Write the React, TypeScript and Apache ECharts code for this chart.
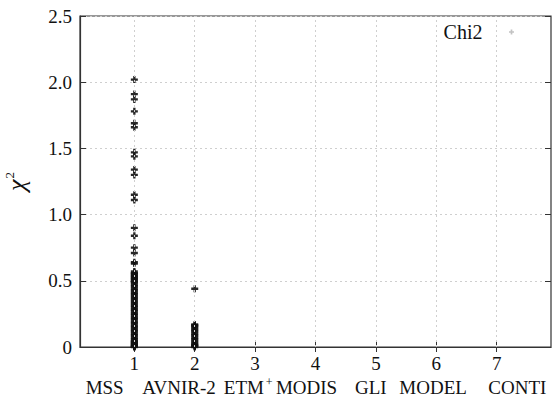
import React, { useEffect, useRef } from "react";
import * as echarts from "echarts";

const tickValues = [1, 2, 3, 4, 5, 6, 7];
const sensorNames = ["MSS", "AVNIR-2", "ETM+", "MODIS", "GLI", "MODEL", "CONTI"];

const chiMSS = [
  2.02, 1.91, 1.87, 1.78, 1.69, 1.66, 1.47, 1.44, 1.34, 1.3, 1.15, 1.11, 0.9, 0.84,
  0.75, 0.71, 0.64, 0.63, 0.57, 0.56, 0.555, 0.55, 0.54, 0.535, 0.53, 0.52, 0.515,
  0.51, 0.5, 0.495, 0.49, 0.48, 0.47, 0.46, 0.45, 0.44, 0.43, 0.42, 0.41, 0.4, 0.39,
  0.38, 0.37, 0.36, 0.35, 0.34, 0.33, 0.32, 0.31, 0.3, 0.29, 0.28, 0.27, 0.26, 0.25,
  0.24, 0.23, 0.22, 0.21, 0.2, 0.19, 0.18, 0.17, 0.16, 0.15, 0.14, 0.13, 0.12, 0.11,
  0.1, 0.09, 0.08, 0.07, 0.06, 0.05, 0.045, 0.04, 0.035, 0.03, 0.025, 0.02, 0.015,
  0.01, 0.005, 0.003, 0.001, 0,
];
const chiAVNIR = [
  0.44, 0.17, 0.165, 0.16, 0.15, 0.14, 0.13, 0.12, 0.11, 0.1, 0.09, 0.08, 0.07, 0.06,
  0.05, 0.04, 0.03, 0.02, 0.015, 0.01, 0.005, 0,
];

// label nudges (px to the left) so names sit where the reference prints them
const nameNudge = [9, 2, 0, 9, 12, 17, 0];

const FONT = "Liberation Serif, Times New Roman, serif";
const PLUS = "path://M2,0h2v2h2v2h-2v2h-2v-2h-2v-2h2z";

export default function App() {
  const ref = useRef<HTMLDivElement>(null);
  useEffect(() => {
    if (!ref.current) return;
    const chart = echarts.init(ref.current, undefined, { renderer: "svg" });
    const points: number[][] = [
      ...chiMSS.map((v) => [tickValues[0], v]),
      ...chiAVNIR.map((v) => [tickValues[1], v]),
    ];
    const gridLine = { color: "#cfcfcf", type: [2, 3] as number[], width: 1 };
    const nameRich: Record<string, any> = {
      sup: { fontSize: 12, lineHeight: 12, padding: [0, 0, 10, 2], fontFamily: FONT, color: "#111" },
    };
    nameNudge.forEach((n, i) => {
      nameRich["p" + i] = {
        fontFamily: FONT,
        fontSize: 19,
        lineHeight: 22,
        color: "#111",
        padding: [0, 2 * n, 0, 0],
      };
    });
    chart.setOption({
      animation: false,
      backgroundColor: "#fff",
      textStyle: { fontFamily: FONT, color: "#111" },
      grid: {
        left: 80,
        right: 6,
        top: 16,
        bottom: 50,
        outerBoundsMode: "none",
        containLabel: false,
        show: true,
        borderColor: "#333",
        borderWidth: 1.2,
        backgroundColor: "transparent",
      },
      legend: {
        data: [{ name: "Chi2", itemStyle: { color: "#bbb" } }],
        right: 38,
        top: 17,
        align: "right",
        icon: PLUS,
        itemWidth: 48,
        itemHeight: 5,
        textStyle: { fontFamily: FONT, fontSize: 20, color: "#111" },
      },
      xAxis: [
        {
          type: "value",
          min: 0.1,
          max: 7.9,
          position: "bottom",
          axisLine: { show: true, onZero: false, lineStyle: { color: "#333", width: 1.2 } },
          axisTick: { show: true, inside: true, length: 5, customValues: tickValues, lineStyle: { color: "#333" } },
          axisLabel: {
            customValues: tickValues,
            fontFamily: FONT,
            fontSize: 19,
            color: "#111",
            margin: 7,
            formatter: (v: number) => String(v),
          },
          splitLine: { show: false },
        },
        {
          type: "value",
          min: 0.1,
          max: 7.9,
          position: "top",
          axisLine: { show: false },
          axisTick: { show: true, inside: true, length: 5, customValues: tickValues, lineStyle: { color: "#333" } },
          axisLabel: { show: false },
          splitLine: { show: false },
        },
        {
          type: "category",
          position: "bottom",
          offset: 21,
          data: sensorNames,
          axisLine: { show: false },
          axisTick: { show: false },
          axisLabel: {
            interval: 0,
            fontFamily: FONT,
            fontSize: 19,
            color: "#111",
            formatter: (v: string, i: number) =>
              v.endsWith("+")
                ? "{p" + i + "|" + v.slice(0, -1) + "}{sup|+}"
                : "{p" + i + "|" + v + "}",
            rich: nameRich,
          },
          splitLine: { show: false },
        },
      ],
      yAxis: [
        {
          type: "value",
          min: 0,
          max: 2.5,
          interval: 0.5,
          name: "{c|χ}{s|2}",
          nameLocation: "middle",
          nameRotate: 90,
          nameGap: 50,
          nameTextStyle: {
            rich: {
              c: { fontFamily: FONT, fontStyle: "italic", fontSize: 26, color: "#111" },
              s: { fontFamily: FONT, fontSize: 13, color: "#111", verticalAlign: "top", padding: [0, 0, 14, 1] },
            },
          },
          axisLine: { show: true, lineStyle: { color: "#333", width: 1.2 } },
          axisTick: { show: true, inside: true, length: 6, lineStyle: { color: "#333" } },
          axisLabel: {
            fontFamily: FONT,
            fontSize: 19,
            color: "#111",
            margin: 8,
            formatter: (v: number) => (v === 0 ? "0" : v.toFixed(1)),
          },
          splitLine: { show: true, lineStyle: gridLine },
        },
        {
          type: "value",
          min: 0,
          max: 2.5,
          interval: 0.5,
          position: "right",
          axisLine: { show: false },
          axisTick: { show: true, inside: true, length: 6, lineStyle: { color: "#333" } },
          axisLabel: { show: false },
          splitLine: { show: false },
        },
      ],
      series: [
        {
          name: "grid",
          type: "scatter",
          data: [],
          silent: true,
          markLine: {
            silent: true,
            symbol: "none",
            label: { show: false },
            lineStyle: gridLine,
            data: tickValues.map((v) => ({ xAxis: v })),
          },
        },
        {
          name: "Chi2",
          type: "scatter",
          data: points,
          symbol: PLUS,
          symbolSize: 7,
          itemStyle: { color: "#111", opacity: 0.9 },
          z: 3,
        },
      ],
    });
    return () => chart.dispose();
  }, []);
  return <div ref={ref} style={{ width: 557, height: 397, position: "absolute", left: 0, top: 0 }} />;
}
